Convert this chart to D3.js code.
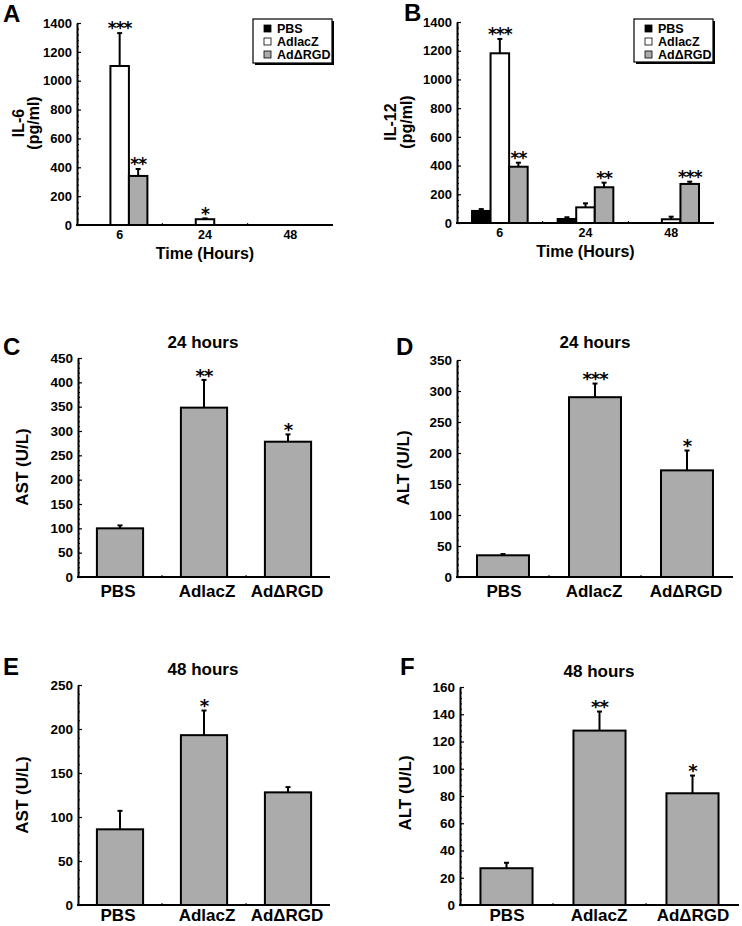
<!DOCTYPE html>
<html><head><meta charset="utf-8">
<script src="https://cdn.jsdelivr.net/npm/d3@7"></script>
<style>body{margin:0;background:#fff}svg text{font-family:'Liberation Sans',Arial,Helvetica,sans-serif;font-weight:bold;fill:#000}</style>
</head><body><svg id="c" width="742" height="926"></svg>
<script>
// ---------- DATA ----------
const timeGroups = ["6", "24", "48"];
const seriesNames = ["PBS", "AdlacZ", "AdΔRGD"];
const seriesFill = ["#000000", "#ffffff", "#ababab"];

// Panel A: IL-6 (pg/ml)
const il6PBS = [0, 0, 0], il6PBSErr = [0, 0, 0];
const il6LacZ = [1102, 40, 0], il6LacZErr = [228, 6, 0];
const il6RGD = [340, 0, 0], il6RGDErr = [48, 0, 0];
const il6Stars = [["", "***", "**"], ["", "*", ""], ["", "", ""]];
const il6Ticks = [0, 200, 400, 600, 800, 1000, 1200, 1400];

// Panel B: IL-12 (pg/ml)
const il12PBS = [84, 28, 0], il12PBSErr = [13, 12, 0];
const il12LacZ = [1182, 109, 26], il12LacZErr = [100, 28, 18];
const il12RGD = [392, 249, 272], il12RGDErr = [28, 32, 16];
const il12Stars = [["", "***", "**"], ["", "", "**"], ["", "", "***"]];
const il12Ticks = [0, 200, 400, 600, 800, 1000, 1200, 1400];

// Panels C-F
const groupsCF = ["PBS", "AdlacZ", "AdΔRGD"];
const ast24 = [100, 348, 278], ast24Err = [6, 57, 15], ast24Stars = ["", "**", "*"];
const ast24Ticks = [0, 50, 100, 150, 200, 250, 300, 350, 400, 450];
const alt24 = [35, 290, 172], alt24Err = [2, 22, 32], alt24Stars = ["", "***", "*"];
const alt24Ticks = [0, 50, 100, 150, 200, 250, 300, 350];
const ast48 = [86, 193, 128], ast48Err = [21, 28, 6], ast48Stars = ["", "*", ""];
const ast48Ticks = [0, 50, 100, 150, 200, 250];
const alt48 = [27, 128, 82], alt48Err = [4, 14, 13], alt48Stars = ["", "**", "*"];
const alt48Ticks = [0, 20, 40, 60, 80, 100, 120, 140, 160];

// ---------- DRAWING ----------
const svg = d3.select("#c");
const GRAY = "#ababab";
const FF = "'Liberation Sans',Arial,Helvetica,sans-serif";

function yAxis(g, y, ticks, x0, fs) {
  const step = ticks[1] - ticks[0];
  const minor = d3.range(ticks[0], ticks[ticks.length - 1] + 1e-9, step / 5);
  g.append("g").attr("transform", `translate(${x0},0)`)
    .call(d3.axisLeft(y).tickValues(minor).tickSize(-2).tickSizeOuter(0).tickFormat(""))
    .call(a => { a.select(".domain").remove(); a.selectAll("line").attr("stroke-width", 1); });
  g.append("g").attr("transform", `translate(${x0},0)`)
    .call(d3.axisLeft(y).tickValues(ticks).tickSize(-4).tickSizeOuter(0).tickPadding(5).tickFormat(d3.format("d")))
    .call(a => {
      a.select(".domain").attr("stroke-width", 2);
      a.selectAll("line").attr("stroke-width", 1.2);
      a.selectAll("text").style("font-size", fs + "px").style("font-family", FF).style("font-weight", "bold");
    });
}

function xBase(g, x0, x1, yb, n) {
  g.append("line").attr("x1", x0 - 1).attr("x2", x1).attr("y1", yb).attr("y2", yb)
    .attr("stroke", "#000").attr("stroke-width", 2);
  const step = (x1 - x0) / n;
  for (let i = 1; i < n; i++) {
    g.append("line").attr("x1", x0 + i * step).attr("x2", x0 + i * step)
      .attr("y1", yb).attr("y2", yb - 2).attr("stroke", "#000").attr("stroke-width", 1);
  }
}

function bar(g, x, w, y, v, e, fill, star, starFs) {
  if (v <= 0) return;
  const yb = y(0);
  g.append("rect").attr("x", x).attr("y", y(v)).attr("width", w).attr("height", yb - y(v))
    .attr("fill", fill).attr("stroke", "#000").attr("stroke-width", 2);
  const cx = x + w / 2;
  if (e > 0) {
    g.append("line").attr("x1", cx).attr("x2", cx).attr("y1", y(v)).attr("y2", y(v + e))
      .attr("stroke", "#000").attr("stroke-width", 2);
    g.append("line").attr("x1", cx - 2.5).attr("x2", cx + 2.5).attr("y1", y(v + e)).attr("y2", y(v + e))
      .attr("stroke", "#000").attr("stroke-width", 2);
  }
  if (star) {
    const cy = y(v + e) - 8;
    g.append("text").attr("x", cx).attr("y", cy + starFs * 0.55).attr("text-anchor", "middle")
      .style("font-size", starFs + "px").style("font-family", "'DejaVu Sans',sans-serif")
      .style("letter-spacing", "-1px").text(star);
  }
}

function letter(t, x, yb) {
  svg.append("text").attr("x", x).attr("y", yb).style("font-size", "24px").text(t);
}

function yLabel(lines, xs, cy, fs) {
  lines.forEach((t, i) => {
    svg.append("text").attr("transform", `translate(${xs[i]},${cy}) rotate(-90)`)
      .attr("text-anchor", "middle").style("font-size", fs + "px").text(t);
  });
}

function grouped(cfg) {
  const g = svg.append("g");
  const y = d3.scaleLinear().domain([0, 1400]).range([cfg.yBase, cfg.yTop]);
  const x = d3.scaleBand().domain(timeGroups).range([cfg.x0, cfg.x1]).paddingInner(0.35).paddingOuter(0.175);
  const xi = d3.scaleBand().domain(seriesNames).range([0, x.bandwidth()]);
  const vals = [cfg.pbs, cfg.lacz, cfg.rgd], errs = [cfg.pbsE, cfg.laczE, cfg.rgdE];
  timeGroups.forEach((tg, gi) => {
    seriesNames.forEach((s, si) => {
      bar(g, x(tg) + xi(s), xi.bandwidth(), y, vals[si][gi], errs[si][gi], seriesFill[si], cfg.stars[gi][si], 17);
    });
  });
  xBase(g, cfg.x0, cfg.x1, cfg.yBase, 3);
  yAxis(g, y, cfg.ticks, cfg.x0, 13);
  timeGroups.forEach(tg => {
    g.append("text").attr("x", x(tg) + x.bandwidth() / 2).attr("y", cfg.yBase + 14)
      .attr("text-anchor", "middle").style("font-size", "12.5px").text(tg);
  });
  g.append("text").attr("x", (cfg.x0 + cfg.x1) / 2).attr("y", cfg.yBase + 34)
    .attr("text-anchor", "middle").style("font-size", "16px").text("Time (Hours)");
  // legend
  const L = cfg.leg;
  g.append("rect").attr("x", L.x + 2).attr("y", L.y + 2).attr("width", L.w).attr("height", L.h).attr("fill", "#000");
  g.append("rect").attr("x", L.x).attr("y", L.y).attr("width", L.w).attr("height", L.h)
    .attr("fill", "#fff").attr("stroke", "#000").attr("stroke-width", 1.2);
  seriesNames.forEach((s, i) => {
    const cy = L.y + 9.5 + i * 13;
    g.append("rect").attr("x", L.x + 11).attr("y", cy - 3.5).attr("width", 7).attr("height", 7)
      .attr("fill", seriesFill[i]).attr("stroke", "#000").attr("stroke-width", 0.8);
    g.append("text").attr("x", L.x + 24).attr("y", cy + 4.5).style("font-size", "12.5px").text(s);
  });
}

function simple(cfg) {
  const g = svg.append("g");
  const y = d3.scaleLinear().domain([0, cfg.ticks[cfg.ticks.length - 1]]).range([cfg.yBase, cfg.yTop]);
  const x = d3.scaleBand().domain(groupsCF).range([cfg.x0, cfg.x1]).paddingInner(cfg.pad).paddingOuter(cfg.pad / 2);
  groupsCF.forEach((c, i) => {
    bar(g, x(c), x.bandwidth(), y, cfg.vals[i], cfg.errs[i], GRAY, cfg.stars[i], 18);
  });
  xBase(g, cfg.x0, cfg.x1, cfg.yBase, 3);
  yAxis(g, y, cfg.ticks, cfg.x0, 13.5);
  groupsCF.forEach((c, i) => {
    g.append("text").attr("x", cfg.catX[i]).attr("y", cfg.catY)
      .attr("text-anchor", "middle").style("font-size", "17px").text(c);
  });
  g.append("text").attr("x", cfg.titleX).attr("y", cfg.titleY)
    .attr("text-anchor", "middle").style("font-size", "17px").text(cfg.title);
}

// Panel A
letter("A", 3, 22);
yLabel(["IL-6", "(pg/ml)"], [24, 39], 123, 16);
grouped({ x0: 77, x1: 333, yTop: 23, yBase: 225, ticks: il6Ticks,
  pbs: il6PBS, pbsE: il6PBSErr, lacz: il6LacZ, laczE: il6LacZErr, rgd: il6RGD, rgdE: il6RGDErr,
  stars: il6Stars, leg: { x: 253, y: 19, w: 79, h: 44 } });

// Panel B
letter("B", 404, 21);
yLabel(["IL-12", "(pg/ml)"], [396, 412], 122, 16);
grouped({ x0: 457, x1: 714, yTop: 22, yBase: 223, ticks: il12Ticks,
  pbs: il12PBS, pbsE: il12PBSErr, lacz: il12LacZ, laczE: il12LacZErr, rgd: il12RGD, rgdE: il12RGDErr,
  stars: il12Stars, leg: { x: 634, y: 19, w: 79, h: 43 } });

// Panel C
letter("C", 3, 355);
yLabel(["AST (U/L)"], [28], 467, 17);
simple({ x0: 78, x1: 330, yTop: 358, yBase: 577, ticks: ast24Ticks, pad: 0.45,
  vals: ast24, errs: ast24Err, stars: ast24Stars, catX: [118, 207, 287], catY: 597,
  title: "24 hours", titleX: 203, titleY: 348 });

// Panel D
letter("D", 396, 355);
yLabel(["ALT (U/L)"], [409], 468, 17);
simple({ x0: 457, x1: 733, yTop: 360, yBase: 577, ticks: alt24Ticks, pad: 0.435,
  vals: alt24, errs: alt24Err, stars: alt24Stars, catX: [504, 594, 686], catY: 597,
  title: "24 hours", titleX: 595, titleY: 348 });

// Panel E
letter("E", 3, 675);
yLabel(["AST (U/L)"], [28], 795, 17);
simple({ x0: 78, x1: 330, yTop: 685, yBase: 905, ticks: ast48Ticks, pad: 0.45,
  vals: ast48, errs: ast48Err, stars: ast48Stars, catX: [118, 207, 287], catY: 921,
  title: "48 hours", titleX: 203, titleY: 675 });

// Panel F
letter("F", 400, 675);
yLabel(["ALT (U/L)"], [411], 793, 17);
simple({ x0: 460, x1: 739, yTop: 687, yBase: 905, ticks: alt48Ticks, pad: 0.44,
  vals: alt48, errs: alt48Err, stars: alt48Stars, catX: [507, 599, 693], catY: 921,
  title: "48 hours", titleX: 599, titleY: 677 });
</script></body></html>
